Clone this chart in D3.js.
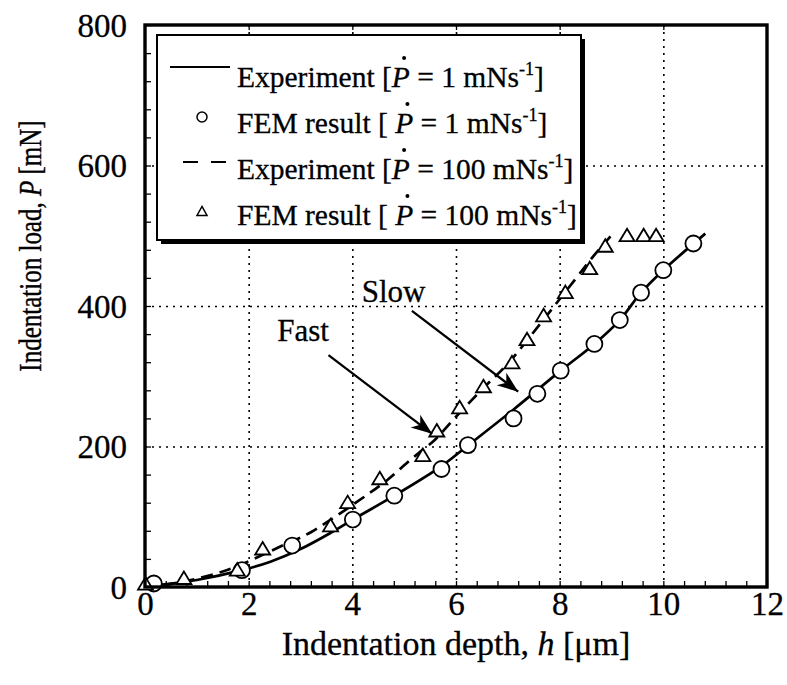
<!DOCTYPE html>
<html><head><meta charset="utf-8">
<script src="https://cdn.jsdelivr.net/npm/d3@7"></script>
<style>
body{margin:0;background:#fff}
svg text{font-family:"Liberation Serif","Times New Roman",serif;fill:#000;stroke:#000;stroke-width:0.3px}
</style>
</head><body>
<svg id="chart" width="787" height="685"></svg>
<script>
// ---------- data ----------
const xTicks = [0, 2, 4, 6, 8, 10, 12];
const yTicks = [0, 200, 400, 600, 800];
const xTitle = "Indentation depth, ";
const yTitle = "Indentation load, ";

// Experiment, slow (1 mN/s) - solid line
const slowExpH = [0, 0.3, 1, 1.87, 2.42, 3, 3.58, 4.01, 4.81, 5.7, 6.24, 7.1, 8.02, 8.67, 9.16, 9.57, 10.0, 10.81];
const slowExpP = [0, 3, 10, 24, 36, 54, 77, 96, 130, 171, 202, 252, 308, 346, 380, 419, 451, 503];
// Experiment, fast (100 mN/s) - dashed line
const fastExpH = [0, 0.4, 1.5, 2.74, 3.2, 4.28, 4.67, 5.12, 5.37, 5.6, 5.97, 6.5, 7.0, 7.65, 8.3, 8.64, 8.98];
const fastExpP = [0, 3, 22, 62, 78, 131, 152, 181, 196, 210, 240, 281, 318, 377, 438, 470, 499];
// FEM, slow - circles
const femSlowH = [0.17, 1.87, 2.84, 4.01, 4.81, 5.72, 6.23, 7.11, 7.57, 8.02, 8.67, 9.16, 9.57, 10.0, 10.58];
const femSlowP = [5, 24, 59, 96, 130, 168, 202, 240, 275, 308, 346, 380, 419, 451, 489];
// FEM, fast - triangles
const femFastH = [0.01, 0.75, 1.78, 2.27, 3.58, 3.91, 4.53, 5.36, 5.63, 6.07, 6.53, 7.08, 7.37, 7.69, 8.11, 8.58, 8.88, 9.30, 9.62, 9.86];
const femFastP = [3, 11, 23, 53, 86, 119, 153, 186, 221, 254, 284, 318, 351, 385, 418, 452, 484, 499, 499, 499];

const legendPre = ["Experiment [", "FEM result [ ", "Experiment [", "FEM result [ "];
const legendPost = ["  = 1 mNs", " = 1 mNs", "  = 100 mNs", " = 100 mNs"];

const annotText = ["Fast", "Slow"];
const annotLabelH = [2.55, 4.18];
const annotLabelP = [350, 405];
const arrowFromH = [3.54, 5.15], arrowFromP = [330, 393];
const arrowToH = [5.54, 7.2], arrowToP = [218, 278];

// ---------- setup ----------
const svg = d3.select("#chart");
const L = 145, R = 767, T = 25, B = 587;
const x = d3.scaleLinear().domain([0, 12]).range([L, R]);
const y = d3.scaleLinear().domain([0, 800]).range([B, T]);

const zip = (a, b) => a.map((v, i) => [v, b[i]]);

// gridlines (dotted)
const gx = svg.append("g").attr("transform", `translate(0,${B})`)
  .call(d3.axisBottom(x).tickValues([2, 4, 6, 8, 10]).tickSize(-(B - T)).tickFormat(""));
const gy = svg.append("g").attr("transform", `translate(${L},0)`)
  .call(d3.axisLeft(y).tickValues([200, 400, 600]).tickSize(-(R - L)).tickFormat(""));
[gx, gy].forEach(g => {
  g.select(".domain").remove();
  g.selectAll("line").attr("stroke", "#000").attr("stroke-width", 1.6).attr("stroke-dasharray", "2,5");
});

// minor ticks (inward)
const mx = svg.append("g").attr("transform", `translate(0,${B})`)
  .call(d3.axisBottom(x).tickValues(d3.range(0, 12.01, 0.4)).tickSize(-6).tickFormat(""));
const my = svg.append("g").attr("transform", `translate(${L},0)`)
  .call(d3.axisLeft(y).tickValues(d3.range(0, 800.1, 40)).tickSize(-6).tickFormat(""));
const mt = svg.append("g").attr("transform", `translate(0,${T})`)
  .call(d3.axisTop(x).tickValues([2, 4, 6, 8, 10]).tickSize(-5).tickFormat(""));
[mx, my, mt].forEach(g => {
  g.select(".domain").remove();
  g.selectAll("line").attr("stroke", "#000").attr("stroke-width", 1.3);
});

// tick labels
const ax = svg.append("g").attr("transform", `translate(0,${B})`)
  .call(d3.axisBottom(x).tickValues(xTicks).tickSize(0).tickPadding(5).tickFormat(d3.format("d")));
const ay = svg.append("g").attr("transform", `translate(${L},0)`)
  .call(d3.axisLeft(y).tickValues(yTicks).tickSize(0).tickPadding(18).tickFormat(d3.format("d")));
[ax, ay].forEach(g => {
  g.select(".domain").remove();
  g.selectAll("text").attr("font-size", 33).attr("font-family", null).attr("fill", "#000");
});
ay.selectAll("text").attr("dy", "0.34em");

// curves
const line = d3.line().x(d => x(d[0])).y(d => y(d[1])).curve(d3.curveCatmullRom.alpha(0.5));
svg.append("path").datum(zip(slowExpH, slowExpP)).attr("d", line)
  .attr("fill", "none").attr("stroke", "#000").attr("stroke-width", 2.7);
svg.append("path").datum(zip(fastExpH, fastExpP)).attr("d", line)
  .attr("fill", "none").attr("stroke", "#000").attr("stroke-width", 2.7).attr("stroke-dasharray", "12,7");

// markers
svg.append("g").selectAll("circle").data(zip(femSlowH, femSlowP)).join("circle")
  .attr("cx", d => x(d[0])).attr("cy", d => y(d[1])).attr("r", 8)
  .attr("fill", "#fff").attr("stroke", "#000").attr("stroke-width", 1.8);
const tri = (w, h) => `M0,${-h * 0.62}L${w / 2},${h * 0.38}L${-w / 2},${h * 0.38}Z`;
svg.append("g").selectAll("path").data(zip(femFastH, femFastP)).join("path")
  .attr("transform", d => `translate(${x(d[0])},${y(d[1])})`).attr("d", tri(15, 12.5))
  .attr("fill", "#fff").attr("stroke", "#000").attr("stroke-width", 1.8);

// arrows + annotation labels
const defs = svg.append("defs");
defs.append("marker").attr("id", "ah").attr("viewBox", "-22 -10 24 20")
  .attr("refX", 0).attr("refY", 0).attr("markerWidth", 24).attr("markerHeight", 20)
  .attr("markerUnits", "userSpaceOnUse").attr("orient", "auto")
  .append("path").attr("d", "M0,0L-21,-8L-15,0L-21,8Z").attr("fill", "#000");
annotText.forEach((txt, i) => {
  svg.append("line").attr("x1", x(arrowFromH[i])).attr("y1", y(arrowFromP[i]))
    .attr("x2", x(arrowToH[i])).attr("y2", y(arrowToP[i]))
    .attr("stroke", "#000").attr("stroke-width", 2.3).attr("marker-end", "url(#ah)");
  svg.append("text").attr("x", x(annotLabelH[i])).attr("y", y(annotLabelP[i])).attr("font-size", 31).text(txt);
});

// legend
const lg = svg.append("g");
const lx0 = 157, ly0 = 35, lw = 424, lh = 205;
lg.append("rect").attr("x", lx0 + 4).attr("y", ly0 + 4).attr("width", lw).attr("height", lh).attr("fill", "#000");
lg.append("rect").attr("x", lx0).attr("y", ly0).attr("width", lw).attr("height", lh)
  .attr("fill", "#fff").attr("stroke", "#000").attr("stroke-width", 2);
const rowSym = [67, 117, 162, 212];
const rowBase = [87, 133, 179, 225];
lg.append("line").attr("x1", 170).attr("x2", 230).attr("y1", rowSym[0]).attr("y2", rowSym[0])
  .attr("stroke", "#000").attr("stroke-width", 2.2);
lg.append("circle").attr("cx", 202).attr("cy", rowSym[1]).attr("r", 5)
  .attr("fill", "#fff").attr("stroke", "#000").attr("stroke-width", 1.5);
lg.append("line").attr("x1", 183).attr("x2", 229).attr("y1", rowSym[2]).attr("y2", rowSym[2])
  .attr("stroke", "#000").attr("stroke-width", 2.2).attr("stroke-dasharray", "15,13");
lg.append("path").attr("transform", `translate(202,${rowSym[3]})`).attr("d", tri(10, 9))
  .attr("fill", "#fff").attr("stroke", "#000").attr("stroke-width", 1.5);

legendPre.forEach((pre, i) => {
  const t = lg.append("text").attr("x", 237).attr("y", rowBase[i]).attr("font-size", 29.5);
  t.append("tspan").text(pre);
  t.append("tspan").attr("font-style", "italic").text("P");
  t.append("tspan").text(legendPost[i]);
  t.append("tspan").attr("font-size", 18).attr("dy", -12).text("-1");
  t.append("tspan").attr("dy", 12).text("]");
  const ext = t.node().getExtentOfChar(pre.length);
  lg.append("circle").attr("cx", ext.x + ext.width * 0.68).attr("cy", rowBase[i] - 29).attr("r", 2).attr("fill", "#000");
});

// axis titles
const xt = svg.append("text").attr("x", (L + R) / 2).attr("y", 655).attr("text-anchor", "middle").attr("font-size", 34);
xt.append("tspan").text(xTitle);
xt.append("tspan").attr("font-style", "italic").text("h");
xt.append("tspan").text(" [μm]");
const yt = svg.append("text").attr("transform", `translate(41,246) scale(1.3,1) rotate(-90)`)
  .attr("text-anchor", "middle").attr("font-size", 25);
yt.append("tspan").text(yTitle);
yt.append("tspan").attr("font-style", "italic").text("P");
yt.append("tspan").text(" [mN]");

// frame
svg.append("rect").attr("x", L).attr("y", T).attr("width", R - L).attr("height", B - T)
  .attr("fill", "none").attr("stroke", "#000").attr("stroke-width", 3.4);
</script>
</body></html>
